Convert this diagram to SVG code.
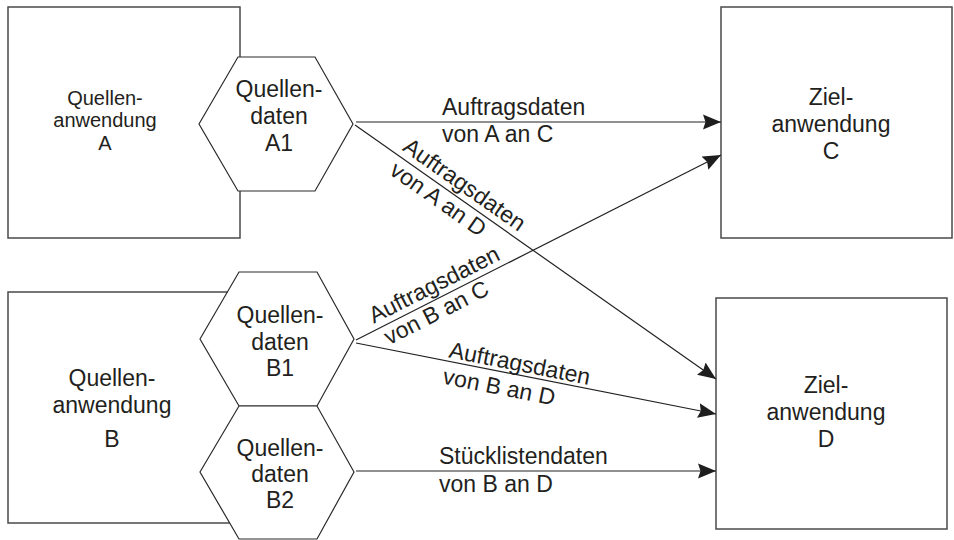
<svg xmlns="http://www.w3.org/2000/svg" width="954" height="540" viewBox="0 0 954 540">
  <style>
    .box { fill: #ffffff; stroke: #4a4a4a; stroke-width: 1.5; }
    .hex { fill: #ffffff; stroke: #2a2a2a; stroke-width: 1.2; }
    .flow { fill: none; stroke: #222222; stroke-width: 1.2; marker-end: url(#head); }
    text { font-family: "Liberation Sans", Arial, Helvetica, sans-serif; fill: #231f20; font-size: 23px; }
    .mid { text-anchor: middle; }
    .small { font-size: 20px; }
  </style>
  <defs>
    <marker id="head" markerUnits="userSpaceOnUse" markerWidth="19" markerHeight="16" refX="18" refY="8" orient="auto">
      <path d="M0,0.5 L18,8 L0,15.5 L2.5,8 Z" fill="#1e1e1e"/>
    </marker>
  </defs>

  <!-- source application A with its data hexagon -->
  <g id="quellenanwendung-a">
    <rect class="box" x="8" y="7" width="232" height="231"/>
    <text class="mid small" x="105"><tspan x="105" y="105">Quellen-</tspan><tspan x="105" y="127">anwendung</tspan><tspan x="105" y="150">A</tspan></text>
  </g>
  <g id="quellendaten-a1">
    <polygon class="hex" points="199,124 238,57 315,57 353,124 315,191 238,191"/>
    <text class="mid"><tspan x="279" y="97">Quellen-</tspan><tspan x="279" y="124">daten</tspan><tspan x="279" y="151">A1</tspan></text>
  </g>

  <!-- source application B with two data hexagons -->
  <g id="quellenanwendung-b">
    <rect class="box" x="8" y="292" width="232" height="231"/>
    <text class="mid"><tspan x="112" y="386">Quellen-</tspan><tspan x="112" y="413">anwendung</tspan><tspan x="112" y="447">B</tspan></text>
  </g>
  <g id="quellendaten-b1">
    <polygon class="hex" points="200,339 239,272 317,272 354,339 317,406 239,406"/>
    <text class="mid"><tspan x="280" y="323">Quellen-</tspan><tspan x="280" y="350">daten</tspan><tspan x="280" y="376">B1</tspan></text>
  </g>
  <g id="quellendaten-b2">
    <polygon class="hex" points="200,472 239,406 317,406 354,472 317,539 239,539"/>
    <text class="mid"><tspan x="280" y="456">Quellen-</tspan><tspan x="280" y="482">daten</tspan><tspan x="280" y="508">B2</tspan></text>
  </g>

  <!-- target applications -->
  <g id="zielanwendung-c">
    <rect class="box" x="721" y="7" width="231" height="231"/>
    <text class="mid"><tspan x="831" y="105">Ziel-</tspan><tspan x="831" y="132">anwendung</tspan><tspan x="831" y="159">C</tspan></text>
  </g>
  <g id="zielanwendung-d">
    <rect class="box" x="716" y="298" width="231" height="231"/>
    <text class="mid"><tspan x="826" y="393">Ziel-</tspan><tspan x="826" y="420">anwendung</tspan><tspan x="826" y="447">D</tspan></text>
  </g>

  <!-- data flows -->
  <g id="connectors">
    <line class="flow" x1="356" y1="122" x2="721" y2="122"/>
    <line class="flow" x1="355" y1="125" x2="716" y2="379"/>
    <line class="flow" x1="356" y1="340" x2="721" y2="155"/>
    <line class="flow" x1="356" y1="343" x2="716" y2="414"/>
    <line class="flow" x1="356" y1="471" x2="716" y2="471"/>

    <text x="442" y="115">Auftragsdaten</text>
    <text x="442" y="142">von A an C</text>

    <g transform="translate(354,125) rotate(35.06)">
      <text x="53" y="-7">Auftragsdaten</text>
      <text x="56" y="20">von A an D</text>
    </g>

    <g transform="translate(355,340) rotate(-26.82)">
      <text x="24" y="-6">Auftragsdaten</text>
      <text x="28" y="20">von B an C</text>
    </g>

    <g transform="translate(355,343) rotate(11.13)">
      <text x="94" y="-4">Auftragsdaten</text>
      <text x="93" y="23">von B an D</text>
    </g>

    <text x="439" y="464">Stücklistendaten</text>
    <text x="439" y="492">von B an D</text>
  </g>
</svg>
